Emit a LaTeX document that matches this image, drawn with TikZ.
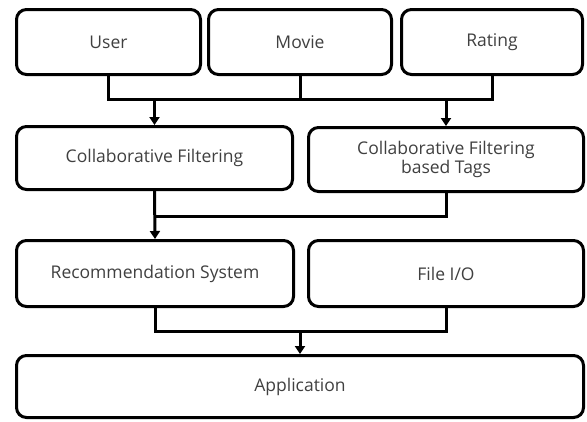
\documentclass[tikz,border=0pt]{standalone}
\usepackage{fontspec}
\setmainfont{Open Sans}
\usetikzlibrary{arrows.meta}
\definecolor{txtgray}{HTML}{404040}
\begin{document}
\begin{tikzpicture}[x=1pt,y=-1pt,
  box/.style={draw=black, line width=3pt, rounded corners=10pt, fill=white,
    text=txtgray, font=\fontsize{17.5}{19}\selectfont, align=center, inner sep=0pt},
  link/.style={draw=black, line width=3pt},
  arr/.style={link, -{Triangle[width=10pt,length=8pt]}}]
\useasboundingbox (0,0) rectangle (587,421);
\fill[white] (0,0) rectangle (587,421);
\node[box, minimum width=184pt, minimum height=65pt] (user) at (108.5,42) {User};
\node[box, minimum width=183pt, minimum height=65pt] (movie) at (300,42) {Movie};
\node[box, minimum width=181pt, minimum height=65pt] (rating) at (492,42) {Rating};
\node[box, minimum width=276pt, minimum height=63pt] (cf) at (154.5,158) {Collaborative Filtering};
\node[box, minimum width=275pt, minimum height=64pt] (cft) at (446,159.5) {Collaborative Filtering\\based Tags};
\node[box, minimum width=277pt, minimum height=66pt] (rec) at (155,273.5) {Recommendation System};
\node[box, minimum width=275pt, minimum height=66pt] (file) at (446,273.5) {File I/O};
\node[box, minimum width=567pt, minimum height=62pt] (app) at (300,386.5) {Application};
\coordinate (j1) at (300,99);
\coordinate (j2) at (300,216);
\coordinate (j3) at (300,331);
\draw[link] (user.south) -- (user.south |- j1) -- (rating.south |- j1) -- (rating.south);
\draw[link] (movie.south) -- (movie.south |- j1);
\draw[arr] (cf.north |- j1) -- (cf.north);
\draw[arr] (cft.north |- j1) -- (cft.north);
\draw[arr] (cf.south) -- (rec.north);
\draw[link] (cft.south) -- (cft.south |- j2) -- (cf.south |- j2);
\draw[link] (rec.south) -- (rec.south |- j3) -- (file.south |- j3) -- (file.south);
\draw[arr] (app.north |- j3) -- (app.north);
\end{tikzpicture}
\end{document}
